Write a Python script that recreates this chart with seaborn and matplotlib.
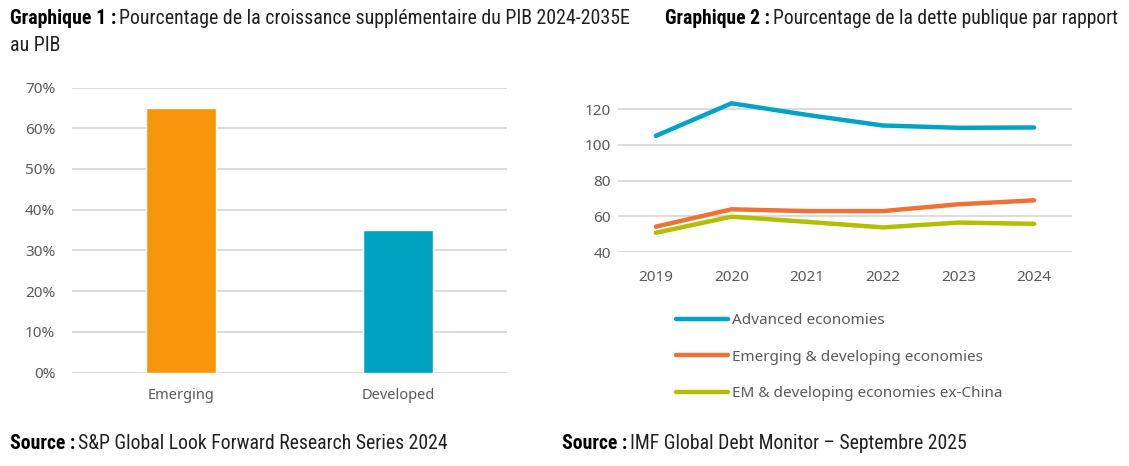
import pandas as pd
import seaborn as sns
import matplotlib.pyplot as plt
from matplotlib import font_manager
from matplotlib.ticker import FuncFormatter

# Graphique 1 data
regions = ["Emerging", "Developed"]
growth_share = [65, 35]
bar_colors = ["#F7960B", "#00A3BF"]

# Graphique 2 data
years = ["2019", "2020", "2021", "2022", "2023", "2024"]
advanced = [105.0, 123.2, 116.7, 110.8, 109.5, 109.7]
emerging = [54.3, 64.0, 63.0, 63.0, 66.8, 69.0]
em_ex_china = [50.9, 59.9, 57.0, 53.9, 56.6, 55.9]
series_names = ["Advanced economies", "Emerging & developing economies",
                "EM & developing economies ex-China"]
line_colors = ["#00A3C4", "#EE7236", "#B2BE00"]

GRID = "#D9D9D9"
TICK = "#595959"
TICK_FONT = "Noto Sans"

# pick a narrow face for the titles if one is around
installed = {f.name for f in font_manager.fontManager.ttflist}
TITLE_FONT = next((f for f in ["Roboto Condensed", "Liberation Sans Narrow", "Roboto"]
                   if f in installed), "DejaVu Sans")

sns.set_theme(style="white")
plt.rcParams["font.family"] = [TICK_FONT, "DejaVu Sans"]

fig = plt.figure(figsize=(11.29, 4.66), dpi=100)
ax1 = fig.add_axes([0.0638, 0.2002, 0.3853, 0.612])
ax2 = fig.add_axes([0.5474, 0.4586, 0.4021, 0.3459])

# --- bar chart
df1 = pd.DataFrame({"region": regions, "share": growth_share})
sns.barplot(data=df1, x="region", y="share", hue="region", palette=bar_colors,
            saturation=1, width=0.32, legend=False, ax=ax1, zorder=3)
ax1.set_ylim(0, 70)
ax1.set_xlim(-0.5, 1.5)
ax1.set_yticks(range(0, 71, 10))
ax1.yaxis.set_major_formatter(FuncFormatter(lambda v, p: f"{v:.0f}%"))
ax1.grid(axis="y", color=GRID, linewidth=1.3, zorder=0)
ax1.set_xlabel("")
ax1.set_ylabel("")
ax1.tick_params(axis="y", length=0, pad=12, labelsize=11, labelcolor=TICK)
ax1.tick_params(axis="x", length=0, pad=11, labelsize=10.5, labelcolor=TICK)

# --- line chart
df2 = pd.DataFrame({
    "year": years * 3,
    "value": advanced + emerging + em_ex_china,
    "series": [s for s in series_names for _ in years],
})
sns.lineplot(data=df2, x="year", y="value", hue="series", palette=line_colors,
             linewidth=3.2, solid_capstyle="round", ax=ax2, zorder=3)
ax2.set_xlim(-0.5, 5.5)
ax2.set_ylim(40, 130)
ax2.set_yticks(range(40, 121, 20))
ax2.grid(axis="y", color=GRID, linewidth=1.3, zorder=0)
ax2.set_xlabel("")
ax2.set_ylabel("")
ax2.tick_params(axis="y", length=0, pad=5, labelsize=11, labelcolor=TICK)
ax2.tick_params(axis="x", length=0, pad=12.5, labelsize=11, labelcolor=TICK)
handles, labels = ax2.get_legend_handles_labels()
for h in handles:
    h.set_solid_capstyle("round")
ax2.legend(handles, labels, loc="upper left",
           bbox_to_anchor=(676 / 1129, 1 - 313 / 466), bbox_transform=fig.transFigure,
           frameon=False, fontsize=11, labelcolor=TICK, handlelength=3.4,
           handletextpad=0.25, borderpad=0, borderaxespad=0, labelspacing=1.42)

for ax in (ax1, ax2):
    sns.despine(ax=ax, left=True, bottom=True)

# --- titles and sources: bold lead-in followed by regular text
fig.canvas.draw()
renderer = fig.canvas.get_renderer()
W, H = 1129, 466


def draw_pair(x_px, y_px, bold, regular, size):
    t1 = fig.text(x_px / W, 1 - y_px / H, bold, fontsize=size, fontweight="bold",
                  family=TITLE_FONT, color="black", va="baseline")
    bb = t1.get_window_extent(renderer)
    t2 = fig.text((bb.x1 + 3) / W, 1 - y_px / H, regular, fontsize=size,
                  family=TITLE_FONT, color="#1F1F1F", va="baseline")
    return t1, t2


def mixed_text(x_px, x_end, y_px, bold, regular, size=12.0):
    # first pass to measure, then redraw at the size that spans x_px..x_end
    t1, t2 = draw_pair(x_px, y_px, bold, regular, size)
    width = t2.get_window_extent(renderer).x1 - t1.get_window_extent(renderer).x0
    t1.remove()
    t2.remove()
    size = size * (x_end - x_px) / width
    draw_pair(x_px, y_px, bold, regular, size)
    return size


s1 = mixed_text(10, 627, 24, "Graphique 1 :",
                "Pourcentage de la croissance supplémentaire du PIB 2024-2035E")
fig.text(10 / W, 1 - 51 / H, "au PIB", fontsize=s1, family=TITLE_FONT,
         color="#1F1F1F", va="baseline")
mixed_text(665, 1117, 24, "Graphique 2 :", "Pourcentage de la dette publique par rapport")
mixed_text(10, 447, 449, "Source :", "S&P Global Look Forward Research Series 2024")
mixed_text(562, 968, 449, "Source :", "IMF Global Debt Monitor – Septembre 2025")

fig.savefig("out.png", dpi=100)
